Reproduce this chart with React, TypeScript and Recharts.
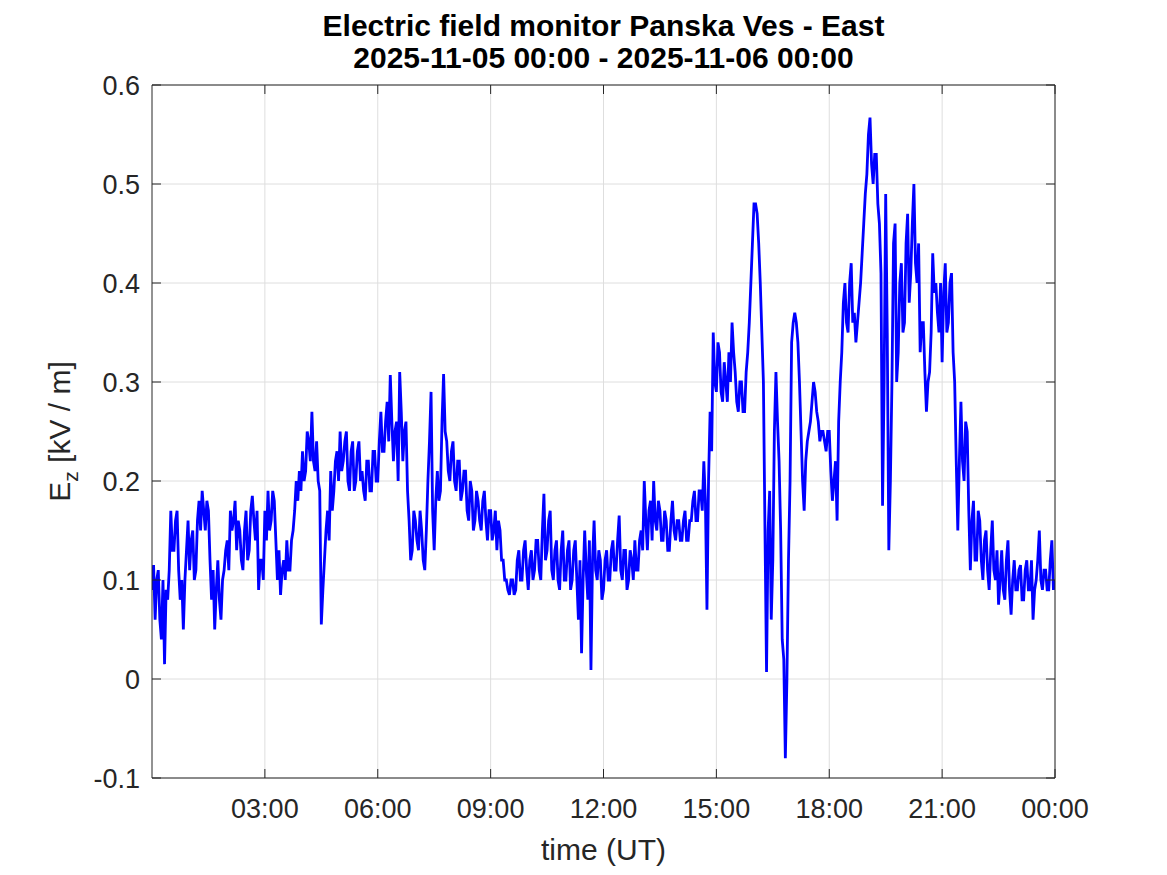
import { LineChart, Line, XAxis, YAxis, CartesianGrid } from "recharts";

// E_z samples every 2.5 minutes, 2025-11-05 00:00 .. 2025-11-06 00:00 (kV/m)
const SAMPLES_PER_HOUR = 24;

const EZ_00_04 = [
  0.09, 0.115, 0.06, 0.1, 0.11, 0.06, 0.04, 0.1, 0.015, 0.09, 0.08, 0.11, 0.17, 0.13, 0.13, 0.16, 0.17, 0.11, 0.08, 0.1, 0.05, 0.1, 0.13, 0.16,
  0.11, 0.14, 0.15, 0.1, 0.11, 0.16, 0.18, 0.15, 0.19, 0.17, 0.15, 0.18, 0.17, 0.12, 0.08, 0.11, 0.05, 0.09, 0.12, 0.08, 0.06, 0.1, 0.11, 0.13,
  0.14, 0.11, 0.17, 0.15, 0.16, 0.18, 0.13, 0.16, 0.15, 0.12, 0.11, 0.15, 0.17, 0.12, 0.13, 0.17, 0.185, 0.16, 0.14, 0.17, 0.09, 0.12, 0.12, 0.1,
  0.17, 0.14, 0.19, 0.15, 0.16, 0.19, 0.18, 0.14, 0.1, 0.13, 0.085, 0.11, 0.12, 0.1, 0.14, 0.11, 0.11, 0.14, 0.15, 0.17, 0.2, 0.18, 0.21, 0.19,
];
const EZ_04_08 = [
  0.23, 0.2, 0.21, 0.25, 0.24, 0.22, 0.27, 0.22, 0.21, 0.24, 0.2, 0.19, 0.055, 0.09, 0.12, 0.15, 0.17, 0.14, 0.21, 0.17, 0.19, 0.22, 0.23, 0.2,
  0.25, 0.21, 0.22, 0.24, 0.25, 0.2, 0.19, 0.23, 0.24, 0.19, 0.2, 0.23, 0.24, 0.2, 0.21, 0.19, 0.18, 0.22, 0.22, 0.19, 0.19, 0.23, 0.23, 0.2,
  0.2, 0.24, 0.27, 0.23, 0.23, 0.26, 0.28, 0.24, 0.307, 0.26, 0.22, 0.25, 0.26, 0.2, 0.31, 0.27, 0.22, 0.25, 0.26, 0.19, 0.16, 0.12, 0.13, 0.17,
  0.16, 0.14, 0.13, 0.17, 0.15, 0.12, 0.11, 0.15, 0.2, 0.24, 0.29, 0.17, 0.13, 0.18, 0.21, 0.18, 0.19, 0.26, 0.308, 0.25, 0.24, 0.21, 0.2, 0.23,
];
const EZ_08_12 = [
  0.24, 0.2, 0.19, 0.22, 0.22, 0.18, 0.19, 0.21, 0.21, 0.17, 0.16, 0.2, 0.19, 0.15, 0.16, 0.19, 0.18, 0.16, 0.15, 0.18, 0.19, 0.16, 0.14, 0.17,
  0.17, 0.14, 0.15, 0.17, 0.13, 0.16, 0.15, 0.12, 0.12, 0.1, 0.1, 0.09, 0.085, 0.1, 0.1, 0.085, 0.09, 0.12, 0.13, 0.1, 0.1, 0.13, 0.14, 0.11,
  0.09, 0.12, 0.13, 0.1, 0.11, 0.14, 0.14, 0.11, 0.1, 0.15, 0.187, 0.12, 0.13, 0.16, 0.17, 0.11, 0.1, 0.13, 0.14, 0.1, 0.09, 0.13, 0.15, 0.1,
  0.1, 0.13, 0.14, 0.09, 0.1, 0.13, 0.14, 0.1, 0.06, 0.12, 0.026, 0.1, 0.15, 0.11, 0.08, 0.14, 0.009, 0.12, 0.16, 0.11, 0.1, 0.13, 0.12, 0.08,
];
const EZ_12_16 = [
  0.09, 0.12, 0.13, 0.1, 0.1, 0.13, 0.14, 0.11, 0.11, 0.14, 0.165, 0.11, 0.1, 0.13, 0.13, 0.09, 0.1, 0.13, 0.12, 0.1, 0.14, 0.11, 0.11, 0.14,
  0.15, 0.13, 0.2, 0.16, 0.13, 0.17, 0.18, 0.14, 0.2, 0.16, 0.15, 0.18, 0.17, 0.14, 0.14, 0.17, 0.16, 0.13, 0.13, 0.16, 0.18, 0.15, 0.14, 0.16,
  0.16, 0.14, 0.14, 0.16, 0.17, 0.14, 0.14, 0.16, 0.16, 0.18, 0.19, 0.16, 0.16, 0.19, 0.19, 0.17, 0.22, 0.18, 0.07, 0.2, 0.27, 0.23, 0.35, 0.3,
  0.29, 0.34, 0.33, 0.29, 0.28, 0.32, 0.3, 0.28, 0.33, 0.3, 0.36, 0.33, 0.31, 0.28, 0.27, 0.3, 0.3, 0.27, 0.27, 0.31, 0.33, 0.36, 0.4, 0.44,
];
const EZ_16_20 = [
  0.48, 0.48, 0.47, 0.44, 0.4, 0.35, 0.3, 0.15, 0.007, 0.15, 0.19, 0.06, 0.12, 0.25, 0.31, 0.26, 0.22, 0.15, 0.04, 0.02, -0.08, 0.0, 0.12, 0.2,
  0.34, 0.36, 0.37, 0.36, 0.34, 0.3, 0.25, 0.2, 0.17, 0.22, 0.24, 0.25, 0.26, 0.28, 0.3, 0.29, 0.27, 0.26, 0.24, 0.25, 0.25, 0.24, 0.23, 0.25,
  0.25, 0.21, 0.18, 0.2, 0.22, 0.16, 0.26, 0.3, 0.33, 0.38, 0.4, 0.36, 0.35, 0.4, 0.42, 0.36, 0.37, 0.34, 0.36, 0.38, 0.4, 0.43, 0.46, 0.49,
  0.51, 0.55, 0.567, 0.52, 0.5, 0.53, 0.53, 0.48, 0.46, 0.41, 0.175, 0.3, 0.49, 0.35, 0.13, 0.2, 0.3, 0.44, 0.46, 0.3, 0.33, 0.4, 0.42, 0.35,
];
const EZ_20_24 = [
  0.36, 0.44, 0.47, 0.38, 0.41, 0.46, 0.5, 0.42, 0.4, 0.44, 0.33, 0.36, 0.36, 0.31, 0.27, 0.3, 0.31, 0.35, 0.43, 0.39, 0.4, 0.37, 0.35, 0.4,
  0.32, 0.39, 0.42, 0.35, 0.36, 0.4, 0.41, 0.33, 0.3, 0.22, 0.15, 0.22, 0.28, 0.22, 0.2, 0.26, 0.25, 0.17, 0.11, 0.16, 0.18, 0.12, 0.12, 0.17,
  0.16, 0.12, 0.1, 0.14, 0.15, 0.11, 0.09, 0.13, 0.16, 0.11, 0.1, 0.13, 0.075, 0.1, 0.13, 0.09, 0.08, 0.12, 0.14, 0.09, 0.065, 0.1, 0.12, 0.09,
  0.09, 0.11, 0.115, 0.08, 0.08, 0.11, 0.12, 0.09, 0.09, 0.12, 0.06, 0.09, 0.1, 0.12, 0.15, 0.1, 0.09, 0.11, 0.11, 0.09, 0.09, 0.12, 0.14, 0.09,
  0.1,
];

const X_TICKS = [3, 6, 9, 12, 15, 18, 21, 24];
const X_TICK_LABELS = ["03:00", "06:00", "09:00", "12:00", "15:00", "18:00", "21:00", "00:00"];
const Y_TICKS = [-0.1, 0, 0.1, 0.2, 0.3, 0.4, 0.5, 0.6];
const Y_TICK_LABELS = ["-0.1", "0", "0.1", "0.2", "0.3", "0.4", "0.5", "0.6"];

const TITLE = ["Electric field monitor Panska Ves - East", "2025-11-05 00:00 - 2025-11-06 00:00"];

const EZ = [...EZ_00_04, ...EZ_04_08, ...EZ_08_12, ...EZ_12_16, ...EZ_16_20, ...EZ_20_24];
const data = EZ.map((v, i) => ({ t: i / SAMPLES_PER_HOUR, ez: v }));

const FONT = '"Liberation Sans", Arial, Helvetica, sans-serif';
const AXIS_COLOR = "#262626";

const xLabel = (v: number) => X_TICK_LABELS[X_TICKS.indexOf(v)] ?? "";
const yLabel = (v: number) => {
  const i = Y_TICKS.findIndex((t) => Math.abs(t - v) < 1e-9);
  return i >= 0 ? Y_TICK_LABELS[i] : "";
};

export default function App() {
  return (
    <div style={{ position: "absolute", left: 0, top: 0, background: "#fff" }}>
      <LineChart
        width={1167}
        height={875}
        data={data}
        margin={{ top: 84, right: 111, bottom: 37, left: 72 }}
      >
        <CartesianGrid stroke="#dedede" strokeWidth={1} verticalValues={X_TICKS} horizontalValues={Y_TICKS} />
        <XAxis
          dataKey="t"
          type="number"
          domain={[0, 24]}
          ticks={X_TICKS}
          tickFormatter={xLabel}
          height={60}
          tickSize={-9}
          tickMargin={30}
          stroke={AXIS_COLOR}
          allowDataOverflow
          tick={{ fill: AXIS_COLOR, fontSize: 27, fontFamily: FONT }}
          label={{
            content: ({ viewBox }: any) => (
              <text
                x={viewBox.x + viewBox.width / 2}
                y={860}
                textAnchor="middle"
                fill={AXIS_COLOR}
                fontSize={30}
                fontFamily={FONT}
              >
                time (UT)
              </text>
            ),
          }}
        />
        {/* mirrored top axis: box edge, inward ticks and the title */}
        <XAxis
          xAxisId="top"
          orientation="top"
          dataKey="t"
          type="number"
          domain={[0, 24]}
          ticks={X_TICKS}
          tickFormatter={() => ""}
          height={1}
          tickSize={-9}
          stroke={AXIS_COLOR}
          allowDataOverflow
          label={{
            content: ({ viewBox }: any) => (
              <text
                textAnchor="middle"
                fill="#000"
                fontSize={30}
                fontWeight="bold"
                fontFamily={FONT}
              >
                <tspan x={viewBox.x + viewBox.width / 2} y={36}>{TITLE[0]}</tspan>
                <tspan x={viewBox.x + viewBox.width / 2} y={68}>{TITLE[1]}</tspan>
              </text>
            ),
          }}
        />
        <YAxis
          type="number"
          domain={[-0.1, 0.6]}
          ticks={Y_TICKS}
          tickFormatter={yLabel}
          width={80}
          tickSize={-9}
          tickMargin={21}
          stroke={AXIS_COLOR}
          allowDataOverflow
          tick={{ fill: AXIS_COLOR, fontSize: 27, fontFamily: FONT }}
          label={{
            content: ({ viewBox }: any) => {
              const cy = viewBox.y + viewBox.height / 2;
              return (
                <text
                  x={70}
                  y={cy}
                  transform={`rotate(-90, 70, ${cy})`}
                  textAnchor="middle"
                  fill={AXIS_COLOR}
                  fontSize={30}
                  fontFamily={FONT}
                >
                  E<tspan fontSize={21} dy={8}>z</tspan>
                  <tspan dy={-8}> [kV / m]</tspan>
                </text>
              );
            },
          }}
        />
        <YAxis
          yAxisId="right"
          orientation="right"
          type="number"
          domain={[-0.1, 0.6]}
          ticks={Y_TICKS}
          tickFormatter={() => ""}
          width={1}
          tickSize={-9}
          stroke={AXIS_COLOR}
          allowDataOverflow
        />
        {/* invisible copy so the mirrored axes get drawn */}
        <Line
          xAxisId="top"
          yAxisId="right"
          type="linear"
          dataKey="ez"
          stroke="none"
          dot={false}
          activeDot={false}
          legendType="none"
          isAnimationActive={false}
        />
        <Line
          type="linear"
          dataKey="ez"
          stroke="#0000ff"
          strokeWidth={2.8}
          dot={false}
          activeDot={false}
          isAnimationActive={false}
        />
      </LineChart>
    </div>
  );
}
